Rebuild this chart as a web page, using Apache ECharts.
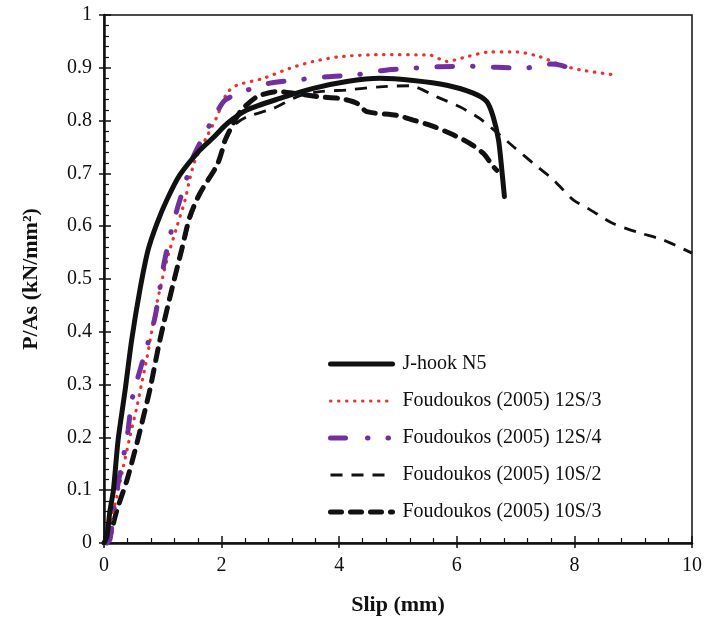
<!DOCTYPE html>
<html>
<head>
<meta charset="utf-8">
<script src="https://cdn.jsdelivr.net/npm/echarts@6/dist/echarts.min.js"></script>
<style>html,body{margin:0;padding:0;background:#fff}#c{width:705px;height:625px}</style>
</head>
<body>
<div id="c"></div>
<script>
var seriesNames = ['J-hook N5', 'Foudoukos (2005) 12S/3', 'Foudoukos (2005) 12S/4', 'Foudoukos (2005) 10S/2', 'Foudoukos (2005) 10S/3'];
var xTicks = [0, 2, 4, 6, 8, 10];
var yTicks = [0, 0.1, 0.2, 0.3, 0.4, 0.5, 0.6, 0.7, 0.8, 0.9, 1];

var jhookN5 = [[0,0],[0.05,0.012],[0.1,0.06],[0.16,0.1],[0.24,0.195],[0.36,0.29],[0.47,0.384],[0.61,0.479],[0.75,0.555],[0.9,0.605],[1.07,0.65],[1.29,0.697],[1.63,0.744],[1.86,0.768],[2.1,0.795],[2.43,0.82],[2.99,0.842],[3.56,0.861],[4.13,0.874],[4.69,0.88],[5.26,0.876],[5.83,0.867],[6.28,0.852],[6.51,0.836],[6.62,0.807],[6.71,0.763],[6.76,0.713],[6.81,0.656]];
var f12S3 = [[0,0],[0.07,0.018],[0.13,0.05],[0.22,0.088],[0.33,0.145],[0.44,0.201],[0.56,0.258],[0.64,0.302],[0.73,0.35],[0.9,0.454],[1.07,0.536],[1.24,0.599],[1.38,0.65],[1.46,0.69],[1.55,0.725],[1.75,0.77],[1.92,0.807],[2.09,0.852],[2.26,0.867],[2.71,0.88],[3.16,0.899],[3.56,0.912],[4.01,0.921],[4.69,0.925],[5.54,0.924],[5.83,0.912],[6.17,0.921],[6.56,0.93],[7.02,0.93],[7.41,0.921],[7.78,0.905],[8.1,0.896],[8.72,0.886]];
var f12S4 = [[0.05,0],[0.1,0.006],[0.16,0.056],[0.24,0.113],[0.33,0.163],[0.41,0.214],[0.47,0.268],[0.58,0.315],[0.73,0.372],[0.87,0.429],[1.01,0.523],[1.12,0.58],[1.24,0.631],[1.38,0.681],[1.52,0.732],[1.75,0.782],[1.94,0.82],[2.06,0.839],[2.37,0.855],[2.82,0.871],[3.28,0.877],[3.79,0.883],[4.3,0.887],[4.75,0.895],[5.2,0.899],[5.71,0.902],[6.17,0.903],[6.68,0.901],[7.13,0.899],[7.59,0.907],[7.76,0.905],[8.04,0.895]];
var f10S2 = [[0.05,0],[0.1,0.012],[0.22,0.06],[0.39,0.117],[0.56,0.187],[0.78,0.288],[0.95,0.38],[1.15,0.475],[1.32,0.55],[1.46,0.612],[1.63,0.66],[1.92,0.715],[2.06,0.76],[2.2,0.79],[2.43,0.807],[2.88,0.823],[3.28,0.845],[3.67,0.855],[4.13,0.858],[4.69,0.864],[5.2,0.866],[5.66,0.845],[6.05,0.826],[6.39,0.804],[6.96,0.751],[7.3,0.719],[7.64,0.688],[7.98,0.65],[8.27,0.631],[8.66,0.605],[9.12,0.587],[9.51,0.574],[10,0.549]];
var f10S3 = [[0.05,0],[0.1,0.012],[0.22,0.0625],[0.39,0.119],[0.56,0.189],[0.67,0.239],[0.78,0.29],[0.95,0.384],[1.15,0.479],[1.32,0.555],[1.46,0.618],[1.63,0.662],[1.92,0.715],[2.0,0.74],[2.06,0.763],[2.2,0.795],[2.34,0.82],[2.6,0.845],[2.94,0.855],[3.22,0.852],[3.67,0.845],[4.01,0.842],[4.3,0.833],[4.47,0.817],[4.98,0.81],[5.26,0.801],[5.6,0.789],[5.94,0.773],[6.22,0.757],[6.45,0.738],[6.62,0.713],[6.68,0.706]];

var serif = '"Liberation Serif", "DejaVu Serif", serif';
var chart = echarts.init(document.getElementById('c'), null, {renderer: 'canvas'});

var gridRect = {left: 104, right: 13, top: 15, bottom: 82};

var styles = [
  {color: '#111', width: 5, type: 'solid', cap: 'round'},
  {color: '#e8322b', width: 3.2, type: [0.5, 7.5], cap: 'round'},
  {color: '#7030a0', width: 5, type: [16, 20, 0.5, 20], cap: 'round'},
  {color: '#111', width: 2.8, type: [12, 9], cap: 'butt'},
  {color: '#111', width: 5, type: [12, 9], cap: 'round'}
];
var legendStyles = [
  {color: '#111', width: 5, type: 'solid', cap: 'round'},
  {color: '#e8322b', width: 3, type: [0.5, 7.5], cap: 'round'},
  {color: '#7030a0', width: 5, type: [15, 22, 0.5, 20, 0.5, 40], cap: 'round'},
  {color: '#111', width: 3, type: [12, 9], cap: 'butt'},
  {color: '#111', width: 5, type: [11, 9], cap: 'round'}
];
var datasets = [jhookN5, f12S3, f12S4, f10S2, f10S3];

chart.setOption({
  animation: false,
  backgroundColor: '#fff',
  grid: [
    Object.assign({show: true, borderColor: '#111', borderWidth: 1.5, backgroundColor: 'transparent'}, gridRect),
    Object.assign({show: false}, gridRect)
  ],
  legend: {
    orient: 'vertical',
    left: 323,
    top: 349,
    itemWidth: 62,
    itemHeight: 20,
    itemGap: 17,
    itemStyle: {opacity: 0, borderWidth: 0},
    textStyle: {fontFamily: serif, fontSize: 20, color: '#111', lineHeight: 20, padding: [0, 0, 0, 5]},
    data: seriesNames.map(function (n, i) { return {name: n, lineStyle: legendStyles[i]}; })
  },
  xAxis: [{
    type: 'value', gridIndex: 0, min: xTicks[0], max: xTicks[xTicks.length - 1], interval: 2,
    name: 'Slip (mm)', nameLocation: 'middle', nameGap: 51,
    nameTextStyle: {fontFamily: serif, fontSize: 22, fontWeight: 'bold', color: '#111'},
    axisLine: {show: true, lineStyle: {color: '#111', width: 2.5}},
    axisTick: {show: true, inside: true, length: 7, lineStyle: {color: '#111', width: 1.5}},
    minorTick: {show: true, splitNumber: 5, length: 5, lineStyle: {color: '#111', width: 1.2}},
    axisLabel: {fontFamily: serif, fontSize: 20, color: '#111', margin: 13},
    splitLine: {show: false}
  }, {
    type: 'value', gridIndex: 1, min: xTicks[0], max: xTicks[xTicks.length - 1], interval: 2,
    axisLine: {show: false},
    axisTick: {show: true, inside: false, length: 5, lineStyle: {color: '#111', width: 1.5}},
    axisLabel: {show: false}, splitLine: {show: false}
  }],
  yAxis: [{
    type: 'value', gridIndex: 0, min: yTicks[0], max: yTicks[yTicks.length - 1], interval: 0.1,
    name: 'P/As (kN/mm²)', nameLocation: 'middle', nameGap: 62,
    nameTextStyle: {fontFamily: serif, fontSize: 22, fontWeight: 'bold', color: '#111'},
    axisLine: {show: true, lineStyle: {color: '#111', width: 2.5}},
    axisTick: {show: true, inside: true, length: 7, lineStyle: {color: '#111', width: 1.5}},
    minorTick: {show: true, splitNumber: 5, length: 5, lineStyle: {color: '#111', width: 1.2}},
    axisLabel: {fontFamily: serif, fontSize: 20, color: '#111', margin: 12,
      formatter: function (v) { return String(Math.round(v * 10) / 10); }},
    splitLine: {show: false}
  }, {
    type: 'value', gridIndex: 1, min: yTicks[0], max: yTicks[yTicks.length - 1], interval: 0.1,
    axisLine: {show: false},
    axisTick: {show: true, inside: false, length: 5, lineStyle: {color: '#111', width: 1.5}},
    axisLabel: {show: false}, splitLine: {show: false}
  }],
  series: seriesNames.map(function (n, i) {
    return {
      name: n, type: 'line', data: datasets[i], symbol: 'none', smooth: 0.25,
      lineStyle: styles[i], itemStyle: {color: styles[i].color},
      z: i === 0 ? 5 : (i < 3 ? 4 : 3)
    };
  })
});
</script>
</body>
</html>
